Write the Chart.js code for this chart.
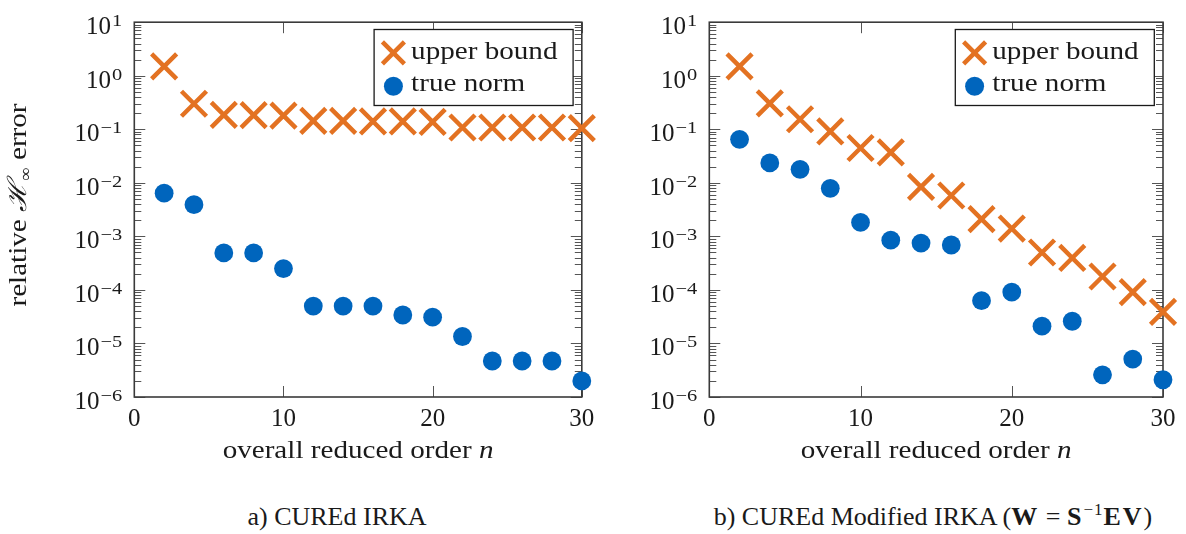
<!DOCTYPE html>
<html>
<head>
<meta charset="utf-8">
<script src="https://cdn.jsdelivr.net/npm/chart.js@4.4.1/dist/chart.umd.min.js"></script>
<style>
  html, body { margin: 0; padding: 0; background: #fff; width: 1186px; height: 534px; overflow: hidden; }
  #left  { position: absolute; left: 0;     top: 0; width: 604px; height: 480px; }
  #right { position: absolute; left: 604px; top: 0; width: 582px; height: 480px; }
  .cap { position: absolute; top: 502px; transform: translateX(-50%); font-family: 'Liberation Serif', serif;
         font-size: 26px; line-height: 30px; color: #1a1a1a; white-space: nowrap; }
  .cap b { letter-spacing: 2px; }
  .cap sup { font-size: 17px; vertical-align: 10px; line-height: 0; letter-spacing: 1px; }
</style>
</head>
<body>
<div id="left"><canvas id="chartA"></canvas></div>
<div id="right"><canvas id="chartB"></canvas></div>
<div class="cap" style="left:337px">a) CUREd IRKA</div>
<div class="cap" style="left:933px">b) CUREd Modified IRKA (<b>W</b> = <b>S</b><sup>−1</sup><b>EV</b>)</div>

<script>
// reduced orders n
const orders = [2, 4, 6, 8, 10, 12, 14, 16, 18, 20, 22, 24, 26, 28, 30];

// a) CUREd IRKA
const irkaBound = [1.5, 0.30, 0.186, 0.184, 0.18, 0.144, 0.144, 0.14, 0.14, 0.137, 0.108, 0.108, 0.108, 0.108, 0.105];
const irkaTrue  = [6.4e-3, 3.9e-3, 4.9e-4, 4.9e-4, 2.5e-4, 5.0e-5, 5.0e-5, 5.0e-5, 3.4e-5, 3.1e-5, 1.35e-5, 4.7e-6, 4.7e-6, 4.7e-6, 2.0e-6];

// b) CUREd Modified IRKA
const modBound = [1.5, 0.305, 0.154, 0.091, 0.0447, 0.0371, 0.0084, 0.0058, 0.0021, 0.0014, 5.0e-4, 3.95e-4, 1.78e-4, 9.1e-5, 3.9e-5];
const modTrue  = [0.065, 0.0235, 0.0179, 0.0079, 0.00182, 8.5e-4, 7.5e-4, 6.9e-4, 6.3e-5, 9.1e-5, 2.1e-5, 2.6e-5, 2.6e-6, 5.1e-6, 2.1e-6];

// axis ticks
const xTickValues = [0, 10, 20, 30];
const yDecades = [-6, -5, -4, -3, -2, -1, 0, 1];

const legendLabels = ['upper bound', 'true norm'];

const ORANGE = '#E37222';
const BLUE = '#0065BD';
const SERIF = "'Liberation Serif', 'DejaVu Serif', serif";
const INK = '#1a1a1a';
const FRAME = '#3a3a3a';

// text drawn with a slight horizontal stretch (wider serif look)
function text(ctx, str, x, y, font, align, sx) {
  sx = sx || 1;
  ctx.save();
  ctx.font = font;
  const w = ctx.measureText(str).width * sx;
  let left = x;
  if (align === 'center') left = x - w / 2;
  else if (align === 'right') left = x - w;
  ctx.translate(left, y);
  ctx.scale(sx, 1);
  ctx.textAlign = 'left';
  ctx.textBaseline = 'alphabetic';
  ctx.fillText(str, 0, 0);
  ctx.restore();
  return w;
}
function textWidth(ctx, str, font, sx) {
  ctx.save(); ctx.font = font;
  const w = ctx.measureText(str).width * (sx || 1);
  ctx.restore();
  return w;
}

function crossX(ctx, x, y, half, lw) {
  ctx.save();
  ctx.strokeStyle = ORANGE;
  ctx.lineWidth = lw;
  ctx.beginPath();
  ctx.moveTo(x - half, y - half); ctx.lineTo(x + half, y + half);
  ctx.moveTo(x - half, y + half); ctx.lineTo(x + half, y - half);
  ctx.stroke();
  ctx.restore();
}
function dot(ctx, x, y, r) {
  ctx.save();
  ctx.fillStyle = BLUE;
  ctx.beginPath(); ctx.arc(x, y, r, 0, Math.PI * 2); ctx.fill();
  ctx.restore();
}

const F_TICK = '25px ' + SERIF;
const F_SUP = '17px ' + SERIF;
const F_TXT = '26px ' + SERIF;
const F_ITAL = 'italic 26px ' + SERIF;
const SX = 1.12;

// frame, inward ticks, tick labels and axis titles
const framePlugin = {
  id: 'frame',
  beforeDatasetsDraw(chart, args, opts) {
    const ctx = chart.ctx;
    const xs = chart.scales.x, ys = chart.scales.y;
    const a = chart.chartArea;
    ctx.save();
    ctx.strokeStyle = '#555';
    ctx.lineWidth = 1;
    // x ticks (bottom and top)
    xTickValues.forEach(v => {
      const px = Math.round(xs.getPixelForValue(v)) + 0.5;
      ctx.beginPath();
      ctx.moveTo(px, a.bottom); ctx.lineTo(px, a.bottom - 11);
      ctx.moveTo(px, a.top); ctx.lineTo(px, a.top + 11);
      ctx.stroke();
    });
    // y ticks, major and minor, both sides
    yDecades.forEach(e => {
      const py = Math.round(ys.getPixelForValue(Math.pow(10, e))) + 0.5;
      ctx.beginPath();
      ctx.moveTo(a.left, py); ctx.lineTo(a.left + 11, py);
      ctx.moveTo(a.right, py); ctx.lineTo(a.right - 11, py);
      ctx.stroke();
      if (e < yDecades[yDecades.length - 1]) {
        for (let k = 2; k <= 9; k++) {
          const pm = Math.round(ys.getPixelForValue(k * Math.pow(10, e))) + 0.5;
          ctx.beginPath();
          ctx.moveTo(a.left, pm); ctx.lineTo(a.left + 7, pm);
          ctx.moveTo(a.right, pm); ctx.lineTo(a.right - 7, pm);
          ctx.stroke();
        }
      }
    });
    // box
    ctx.strokeStyle = FRAME;
    ctx.lineWidth = 1.6;
    ctx.strokeRect(a.left, a.top, a.right - a.left, a.bottom - a.top);

    ctx.fillStyle = INK;
    // x tick labels
    xTickValues.forEach(v => {
      text(ctx, String(v), xs.getPixelForValue(v), a.bottom + 29, F_TICK, 'center');
    });
    // y tick labels: 10 with exponent
    yDecades.forEach(e => {
      const py = ys.getPixelForValue(Math.pow(10, e));
      const sup = e < 0 ? '\u2212' + Math.abs(e) : String(e);
      const wSup = textWidth(ctx, sup, F_SUP, 1.2);
      const wBase = textWidth(ctx, '10', F_TICK);
      const right = a.left - 12;
      text(ctx, '10', right - wSup - wBase - 1, py + 12, F_TICK, 'left');
      text(ctx, sup, right - wSup, py + 4, F_SUP, 'left', 1.2);
    });
    // x axis title
    const t1 = 'overall reduced order ';
    const w1 = textWidth(ctx, t1, F_TXT, SX);
    const wn = textWidth(ctx, 'n', F_ITAL, SX);
    const x0 = (a.left + a.right) / 2 - (w1 + wn) / 2;
    text(ctx, t1, x0, a.bottom + 61, F_TXT, 'left', SX);
    text(ctx, 'n', x0 + w1, a.bottom + 61, F_ITAL, 'left', SX);

    // y axis title
    if (opts.yTitle) {
      ctx.save();
      ctx.translate(26, 205);
      ctx.rotate(-Math.PI / 2);
      const p1 = 'relative ', p3 = ' error';
      const wp1 = textWidth(ctx, p1, F_TXT, SX), wp3 = textWidth(ctx, p3, F_TXT, SX);
      const wH = textWidth(ctx, '\u210B', F_ITAL, SX);
      const wI = textWidth(ctx, '\u221E', F_SUP, 1.1);
      let x = -(wp1 + wH + wI + wp3) / 2;
      text(ctx, p1, x, 0, F_TXT, 'left', SX); x += wp1;
      text(ctx, '\u210B', x, 0, F_ITAL, 'left', SX); x += wH;
      text(ctx, '\u221E', x, 5, F_SUP, 'left', 1.1); x += wI;
      text(ctx, p3, x, 0, F_TXT, 'left', SX);
      ctx.restore();
    }
    ctx.restore();
  },
  afterDatasetsDraw(chart) {
    const ctx = chart.ctx;
    const a = chart.chartArea;
    const bw = 199, bh = 76;
    const bx = a.right - 8.7 - bw, by = a.top + 7.3;
    ctx.save();
    ctx.fillStyle = '#fff';
    ctx.fillRect(bx, by, bw, bh);
    ctx.strokeStyle = INK;
    ctx.lineWidth = 1.3;
    ctx.strokeRect(bx, by, bw, bh);
    crossX(ctx, bx + 19.3, by + 23.4, 11, 4.5);
    dot(ctx, bx + 19.3, by + 56.7, 9.5);
    ctx.fillStyle = INK;
    text(ctx, legendLabels[0], bx + 37, by + 29.4, F_TXT, 'left', SX);
    text(ctx, legendLabels[1], bx + 37, by + 61, F_TXT, 'left', SX);
    ctx.restore();
  }
};

function makeChart(id, boundVals, trueVals, pad, yTitle) {
  return new Chart(document.getElementById(id), {
    type: 'scatter',
    data: {
      datasets: [
        {
          label: legendLabels[0],
          data: orders.map((n, i) => ({ x: n, y: boundVals[i] })),
          pointStyle: 'crossRot',
          pointRadius: 17.7,
          pointHoverRadius: 17.7,
          borderColor: ORANGE,
          backgroundColor: ORANGE,
          pointBorderWidth: 4.5,
          clip: false
        },
        {
          label: legendLabels[1],
          data: orders.map((n, i) => ({ x: n, y: trueVals[i] })),
          pointStyle: 'circle',
          pointRadius: 9.4,
          pointHoverRadius: 9.4,
          borderWidth: 0,
          pointBorderWidth: 0,
          backgroundColor: BLUE,
          borderColor: BLUE,
          clip: false
        }
      ]
    },
    options: {
      responsive: true,
      maintainAspectRatio: false,
      animation: false,
      events: [],
      layout: { padding: pad },
      plugins: { legend: { display: false }, tooltip: { enabled: false }, frame: { yTitle } },
      scales: {
        x: { type: 'linear', min: 0, max: 30, display: false },
        y: { type: 'logarithmic', min: 1e-6, max: 10, display: false }
      }
    },
    plugins: [framePlugin]
  });
}

makeChart('chartA', irkaBound, irkaTrue, { left: 134.3, right: 16, top: 20, bottom: 83 }, true);
makeChart('chartB', modBound, modTrue, { left: 105.3, right: 23, top: 20, bottom: 83 }, false);
</script>
</body>
</html>
